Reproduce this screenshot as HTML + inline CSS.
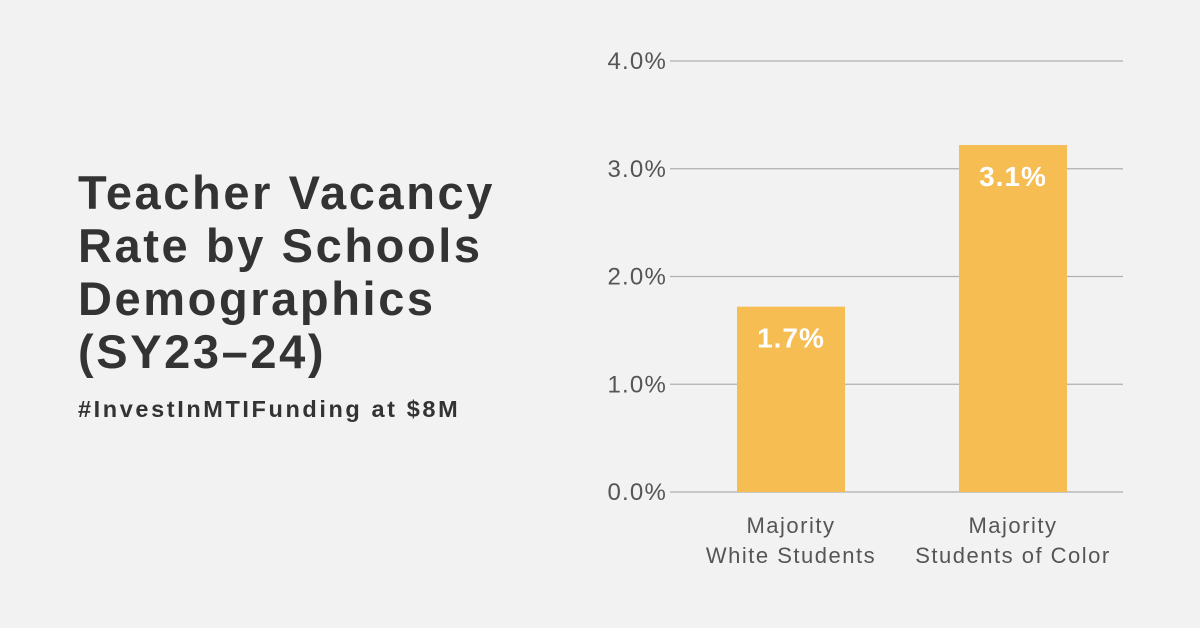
<!DOCTYPE html>
<html><head><meta charset="utf-8"><style>
body{margin:0;width:1200px;height:628px;background:#f2f2f2;overflow:hidden;font-family:"Liberation Sans",sans-serif}
#title{position:absolute;left:78px;top:166px;font-size:47px;font-weight:bold;color:#333;line-height:53px;letter-spacing:2.6px}
#sub{position:absolute;left:78px;top:396px;font-size:23.5px;font-weight:bold;color:#333;letter-spacing:2.6px}
svg{position:absolute;left:0;top:0}
</style></head><body>
<div id="title">Teacher Vacancy<br>Rate by Schools<br>Demographics<br>(SY23–24)</div>
<div id="sub">#InvestInMTIFunding at $8M</div>
<svg id="chart" width="1200" height="628"></svg>
<script>
const categories=[["Majority","White Students"],["Majority","Students of Color"]];
const values=[1.72,3.22];
const valueLabels=["1.7%","3.1%"];
const ticks=[0,1,2,3,4];
const tickLabels=["0.0%","1.0%","2.0%","3.0%","4.0%"];
const ns="http://www.w3.org/2000/svg";
const svg=document.getElementById('chart');
const y0=492,pxPer=107.75;
const y=v=>y0-v*pxPer;
const bandX=i=>737+i*222,bw=108;
function mk(t,a,txt){const e=document.createElementNS(ns,t);for(const k in a)e.setAttribute(k,a[k]);if(txt!=null)e.textContent=txt;svg.appendChild(e);return e;}
ticks.forEach((t,i)=>{
 const l=mk('line',{x1:670,x2:1123,y1:y(t),y2:y(t),stroke:'#b0b0b0','stroke-width':1.3});
 
 
 const tx=mk('text',{x:667,y:y(t)+8,'text-anchor':'end','font-size':24,'letter-spacing':1.2,fill:'#555','font-family':'Liberation Sans, sans-serif'},tickLabels[i]);
 
 
});
values.forEach((v,i)=>{
 const r=mk('rect',{x:bandX(i),y:y(v),width:bw,height:y0-y(v),fill:'#f5bd52'});
 
 
 const t=mk('text',{x:bandX(i)+bw/2,y:y(v)+41,'text-anchor':'middle','font-size':28,'font-weight':'bold','letter-spacing':1,fill:'#fff','font-family':'Liberation Sans, sans-serif'},valueLabels[i]);
 
 
 categories[i].forEach((line,j)=>{
  const c=mk('text',{x:bandX(i)+bw/2,y:533+j*30,'text-anchor':'middle','font-size':22,'letter-spacing':1.5,fill:'#555','font-family':'Liberation Sans, sans-serif'},line);
  
  
 });
});
</script>
</body></html>
